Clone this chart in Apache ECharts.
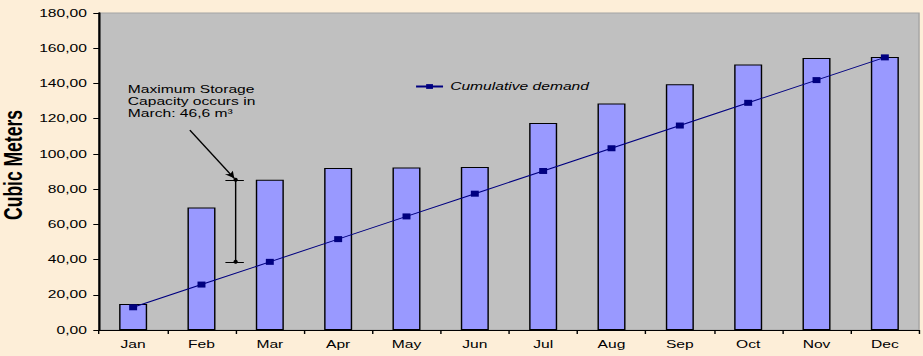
<!DOCTYPE html>
<html>
<head>
<meta charset="utf-8">
<script src="https://cdn.jsdelivr.net/npm/echarts@6/dist/echarts.min.js"></script>
<style>
  html, body { margin: 0; padding: 0; background: #FDEED8; overflow: hidden; }
  /* the chart is laid out narrow and widened horizontally, like a stretched spreadsheet chart */
  #chart { width: 650px; height: 356px; transform: scaleX(1.42); transform-origin: 0 0; }
</style>
</head>
<body>
<div id="chart"></div>
<script>
// Monthly storage / supply volumes (m³) and cumulative demand
const months = ['Jan', 'Feb', 'Mar', 'Apr', 'May', 'Jun', 'Jul', 'Aug', 'Sep', 'Oct', 'Nov', 'Dec'];
const supply = [14.8, 69.6, 85.3, 92.0, 92.3, 92.5, 117.5, 128.6, 139.5, 150.8, 154.5, 155.0];
const cumulativeDemand = [12.9, 25.8, 38.7, 51.6, 64.5, 77.4, 90.3, 103.2, 116.1, 129.0, 141.9, 154.8];
const yTicks = { min: 0, max: 180, interval: 20 };

// Maximum storage bracket between Feb and Mar: demand and supply level in March
const storageLow = cumulativeDemand[2];
const storageHigh = supply[2];
const bracketX = 1.5;

const fmt = v => v.toFixed(2).replace('.', ',');
const font = 'Liberation Sans, Arial, sans-serif';

const chart = echarts.init(document.getElementById('chart'), null, { renderer: 'svg' });
chart.setOption({
  backgroundColor: '#FDEED8',
  animation: false,
  grid: {
    left: 69.7, right: 2.8, top: 13, bottom: 26,
    outerBoundsMode: 'none',
    containLabel: false,
    show: true, backgroundColor: '#C0C0C0', borderColor: '#A4A4A4', borderWidth: 1
  },
  legend: {
    data: [{ name: 'Cumulative demand' }],
    left: 292, top: 81, padding: 0,
    itemWidth: 19, itemHeight: 6, itemGap: 4,
    textStyle: { fontFamily: font, fontSize: 11, fontStyle: 'italic', color: '#000' }
  },
  graphic: [{
    type: 'text',
    left: 90, top: 83,
    style: {
      text: 'Maximum Storage\nCapacity occurs in\nMarch: 46,6 m³',
      font: '11px ' + font,
      fill: '#000',
      lineHeight: 12
    }
  }, {
    // vertical value-axis title
    type: 'text',
    x: 10, y: 165,
    rotation: Math.PI / 2,
    style: {
      text: 'Cubic Meters',
      font: 'bold 17.5px "Liberation Sans Narrow", "Arial Narrow", "Liberation Sans", sans-serif',
      fill: '#000',
      align: 'center',
      verticalAlign: 'middle'
    }
  }],
  xAxis: [{
    type: 'category',
    data: months,
    boundaryGap: true,
    axisLine: { lineStyle: { color: '#000', width: 1 } },
    axisTick: { show: true, length: 4, alignWithLabel: false, lineStyle: { color: '#000' } },
    axisLabel: { fontFamily: font, fontSize: 11, color: '#000', margin: 9 },
    splitLine: { show: false }
  }, {
    type: 'value',
    min: -0.5, max: 11.5,
    show: false
  }],
  yAxis: {
    type: 'value',
    min: yTicks.min, max: yTicks.max, interval: yTicks.interval,
    axisLine: { show: true, onZero: false, lineStyle: { color: '#000', width: 1.6 } },
    axisTick: { show: true, length: 4, lineStyle: { color: '#000' } },
    axisLabel: { fontFamily: font, fontSize: 11, color: '#000', margin: 8.5, formatter: fmt },
    splitLine: { show: false }
  },
  series: [{
    name: 'Supply',
    type: 'bar',
    data: supply,
    barWidth: '41%',
    itemStyle: { color: '#9999FF', borderColor: '#000', borderWidth: 1 },
    z: 2
  }, {
    name: 'Cumulative demand',
    type: 'line',
    data: cumulativeDemand,
    symbol: 'rect',
    symbolSize: [5.6, 6],
    lineStyle: { color: '#000080', width: 1 },
    itemStyle: { color: '#000080' },
    z: 3
  }, {
    // storage bracket: vertical span with end caps and a pointer arrow
    name: 'bracket',
    type: 'line',
    xAxisIndex: 1,
    data: [[bracketX, storageLow], [bracketX, storageHigh]],
    symbol: 'circle',
    symbolSize: [3, 4],
    lineStyle: { color: '#000', width: 1 },
    itemStyle: { color: '#000' },
    z: 4,
    markLine: {
      silent: true,
      label: { show: false },
      lineStyle: { color: '#000', width: 1, type: 'solid' },
      data: [
        [{ coord: [1.35, storageHigh], symbol: 'none' }, { coord: [1.62, storageHigh], symbol: 'none' }],
        [{ coord: [1.35, storageLow], symbol: 'none' }, { coord: [1.62, storageLow], symbol: 'none' }],
        [{ coord: [0.83, 113.5], symbol: 'none' }, { coord: [1.48, storageHigh + 0.8], symbol: 'arrow', symbolSize: [5, 7] }]
      ]
    }
  }]
});
</script>
</body>
</html>
